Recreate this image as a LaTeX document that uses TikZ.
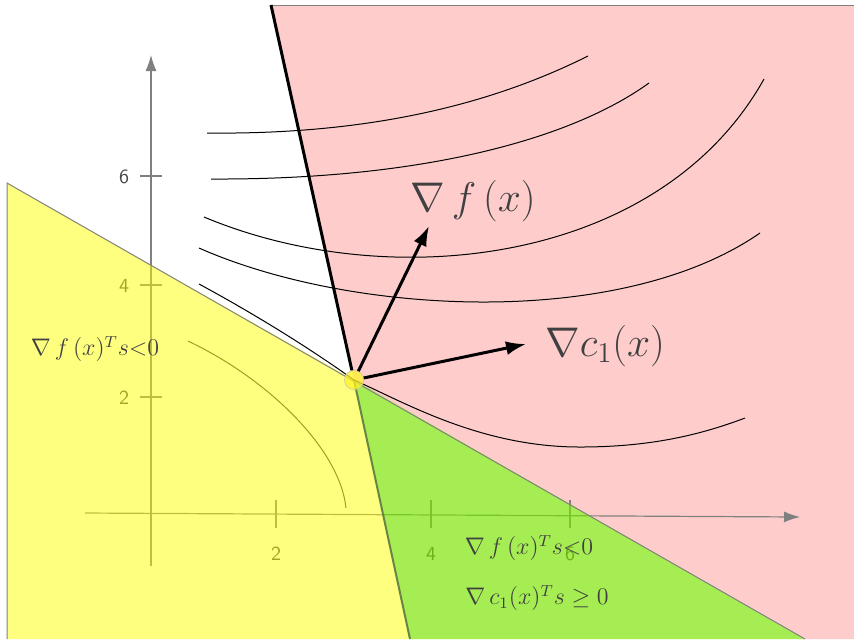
\documentclass[tikz,border=0pt]{standalone}
\usepackage{amsmath,amssymb}
\usetikzlibrary{calc,positioning,arrows.meta}
\definecolor{regionpink}{RGB}{255,204,204}
\definecolor{regionyellow}{RGB}{255,255,0}
\definecolor{regiongreen}{RGB}{0,206,0}
\definecolor{axisgray}{RGB}{128,128,128}
\definecolor{labelgray}{RGB}{64,64,64}
\definecolor{edgegreen}{RGB}{104,132,70}

\begin{document}
\begin{tikzpicture}[x=0.5pt,y=-0.5pt]
  \tikzset{axis line/.style={draw=axisgray,line width=0.6pt},
    axis arrow/.style={axis line,-{Latex[length=8pt,width=5.5pt]}},
    level curve/.style={draw=black,line width=0.5pt},
    region edge/.style={draw=axisgray,line width=0.5pt},
    tick label/.style={text=black!72,font=\sffamily\fontsize{10}{12}\selectfont},
    big label/.style={text=labelgray,font=\fontsize{22.5}{26}\selectfont},
    small label/.style={text=labelgray,font=\fontsize{12}{14}\selectfont},
    grad arrow/.style={draw=black,line width=1.5pt,-{Latex[length=10pt,width=7pt]}}}
  \useasboundingbox (0,0) rectangle (854,639);
  \coordinate (v) at (354,380);
  \coordinate (top) at (271,5);
  \coordinate (gf) at (429,226);
  \coordinate (gc) at (526,344);
  \coordinate (ytop) at (7,183);
  \coordinate (ybot) at (410,639);
  \coordinate (gend) at (805,639);
  \fill[regionpink] (top) -- (854,5) -- (854,639) -- (gend) -- (v) -- cycle;
  \draw[region edge] (top) -- (854,5);
  \draw[axis arrow] (151,566) -- (151,55);
  \draw[axis arrow] (85,513) -- (800,517);
  \foreach \y/\t in {176/6,285/4,397/2}{
    \draw[axis line] (140,\y) -- (162,\y);
    \node[tick label] (yt\t) at (124,\y+1) {\t};
  }
  \foreach \x/\t in {276/2,431/4,570/6}{
    \draw[axis line] (\x,500) -- (\x,528);
    \node[tick label] (xt\t) at (\x,554) {\t};
  }
  \draw[draw=black!75,line width=0.5pt] (188,341) .. controls (270,380) and (340,450) .. (346,508);
  \fill[regionyellow,fill opacity=0.5] (ytop) -- (v) -- (gend) -- (7,639) -- cycle;
  \fill[regiongreen,fill opacity=0.35] (v) -- (gend) -- (ybot) -- cycle;
  \draw[region edge] (7,639) -- (ytop) -- (gend);
  \draw[draw=edgegreen,line width=1pt] (v) -- (ybot);
  \draw[level curve] (207,133) .. controls (380,135) and (500,100) .. (588,56);
  \draw[level curve] (211,179) .. controls (420,180) and (570,140) .. (649,83);
  \draw[level curve] (204,217) .. controls (390,295) and (660,265) .. (764,79);
  \draw[level curve] (199,248) .. controls (350,315) and (620,330) .. (760,233);
  \draw[level curve] (199,284) .. controls (262,318) and (318,354) .. (v)
    .. controls (404,402) and (480,447) .. (580,447)
    .. controls (650,447) and (700,435) .. (745,418);
  \node[circle,inner sep=0,minimum size=9.5pt,fill=yellow!85!white,fill opacity=0.75,draw=yellow!60!black!50,line width=0.4pt] (vc) at (v) {};
  \draw[draw=black,line width=1.5pt] (top) -- (vc);
  \draw[grad arrow] (vc) -- (gf);
  \draw[grad arrow] (vc) -- (gc);
  \node[big label] (lf) at (473,201) {$\nabla\,f\,(x)$};
  \node[big label] (lc) at (605,346) {$\nabla c_1(x)$};
  \node[small label] (ly) at (95,349) {$\nabla\,f\,(x)^T s{<}0$};
  \node[small label] (lg1) at (529,548) {$\nabla\,f\,(x)^T s{<}0$};
  \node[small label] (lg2) at (537,598) {$\nabla\,c_1(x)^T s\geq0$};
\end{tikzpicture}
\end{document}
